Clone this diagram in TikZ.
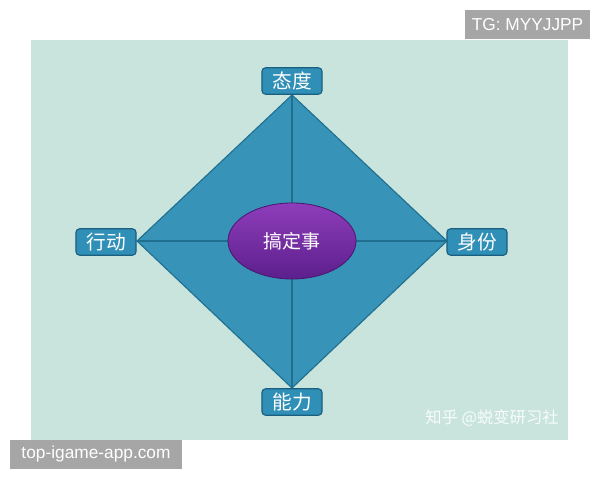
\documentclass[tikz,border=0pt]{standalone}
\usepackage{fontspec}
\setmainfont{Liberation Sans}
\newfontfamily\cjk{Noto Sans CJK SC}
\usetikzlibrary{shapes.geometric}
\definecolor{panel}{HTML}{C8E4DC}
\definecolor{dia}{HTML}{3794B8}
\definecolor{diaedge}{HTML}{1F6F90}
\definecolor{boxfill}{HTML}{2F8FB6}
\definecolor{boxedge}{HTML}{1B5F80}
\definecolor{purpTop}{HTML}{8E3DBA}
\definecolor{purpBot}{HTML}{5C1F8C}
\definecolor{graybox}{HTML}{A6A6A6}
\tikzset{
  px/.style={x=0.025cm,y=-0.025cm},
  lab/.style={draw=boxedge,line width=0.8pt,fill=boxfill,rounded corners=2.5pt,minimum width=1.5cm,minimum height=0.66cm,inner sep=0pt,text=white,font=\cjk\fontsize{14}{16}\selectfont},
  tag/.style={fill=graybox,text=white,inner sep=0pt,font=\fontsize{12.3}{14}\selectfont},
  spoke/.style={draw=diaedge,line width=1pt}
}
\begin{document}
\begin{tikzpicture}[px]
\useasboundingbox (0,0) rectangle (600,480);
\fill[white] (0,0) rectangle (600,480);
\fill[panel] (31,40) rectangle (568,440);
% diamond
\coordinate (T) at (292,95);
\coordinate (L) at (137,241);
\coordinate (R) at (447,241);
\coordinate (B) at (292,388);
\coordinate (C) at (292,241);
\filldraw[fill=dia,draw=diaedge,line width=0.8pt] (T) -- (R) -- (B) -- (L) -- cycle;
\draw[spoke] (T) -- (B);
\draw[spoke] (L) -- (R);
% center ellipse
\node[ellipse,draw=purpBot!80!black,line width=0.6pt,top color=purpTop,bottom color=purpBot,minimum width=3.2cm,minimum height=1.9cm,inner sep=0pt,text=white,font=\cjk\fontsize{13.5}{15}\selectfont] (core) at (C) {搞定事};
% labels
\node[lab] (taidu) at (292,81) {态度};
\node[lab] (xingdong) at (106,242) {行动};
\node[lab] (shenfen) at (477,242) {身份};
\node[lab] (nengli) at (292,402) {能力};
% watermark
\node[text=white!88!panel,font=\cjk\fontsize{11.6}{13}\selectfont] (wm) at (492,418) {知乎 @蜕变研习社};
% gray tags
\node[tag,minimum width=3.1cm,minimum height=0.72cm] (tg) at (527.5,24.5) {TG: MYYJJPP};
\node[tag,minimum width=4.3cm,minimum height=0.72cm] (site) at (96,454.5) {top-igame-app.com};
\end{tikzpicture}
\end{document}
